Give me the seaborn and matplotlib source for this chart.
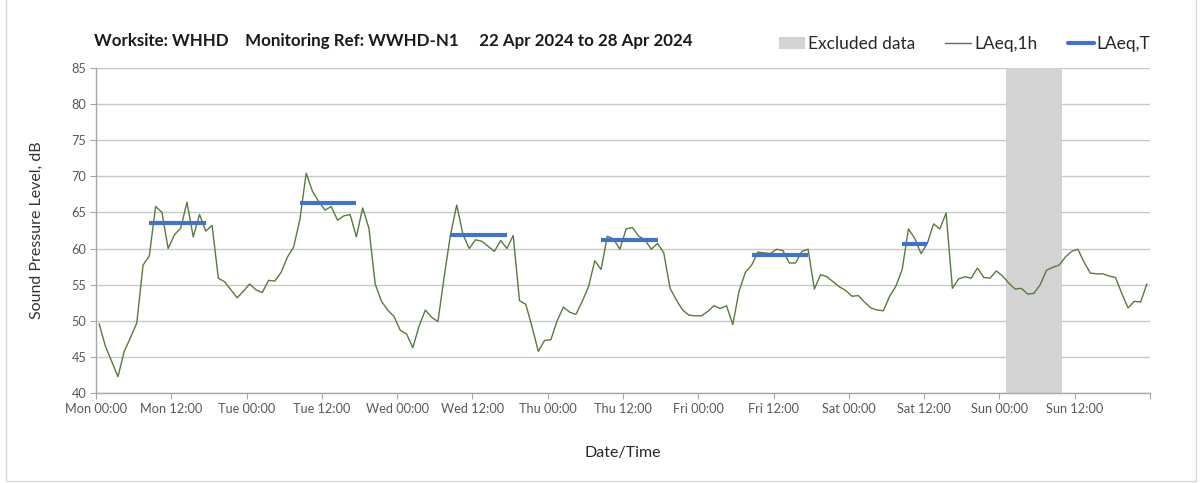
import numpy as np
import pandas as pd
import matplotlib
matplotlib.use("Agg")
import matplotlib.pyplot as plt
import matplotlib.dates as mdates
from matplotlib.patches import Patch
from matplotlib.lines import Line2D
import seaborn as sns

# Hourly LAeq,1h readings (dB), one per hour from Mon 22 Apr 2024 00:00
laeq_mon = [49.6, 46.5, 44.4, 42.3, 45.8, 47.7, 49.7, 57.7, 59.0, 65.8, 65.0, 60.0,
            61.9, 62.8, 66.4, 61.6, 64.7, 62.4, 63.2, 55.9, 55.4, 54.3, 53.2, 54.1]
laeq_tue = [55.1, 54.3, 53.9, 55.6, 55.5, 56.7, 58.8, 60.2, 64.0, 70.4, 67.9, 66.5,
            65.3, 65.8, 63.9, 64.5, 64.7, 61.6, 65.6, 62.8, 55.1, 52.7, 51.5, 50.6]
laeq_wed = [48.7, 48.2, 46.3, 49.3, 51.5, 50.5, 49.9, 56.1, 61.9, 66.0, 61.9, 60.0,
            61.2, 61.0, 60.3, 59.6, 61.1, 60.0, 61.8, 52.8, 52.3, 49.2, 45.8, 47.3]
laeq_thu = [47.4, 50.0, 51.9, 51.2, 50.9, 52.7, 54.7, 58.3, 57.1, 61.7, 61.3, 59.9,
            62.7, 62.9, 61.7, 61.2, 59.9, 60.7, 59.4, 54.5, 52.9, 51.5, 50.8, 50.7]
laeq_fri = [50.7, 51.3, 52.1, 51.7, 52.1, 49.5, 54.1, 56.7, 57.7, 59.5, 59.4, 59.3,
            59.9, 59.7, 58.0, 58.0, 59.6, 59.9, 54.4, 56.4, 56.1, 55.4, 54.7, 54.2]
laeq_sat = [53.4, 53.5, 52.6, 51.8, 51.5, 51.4, 53.4, 54.8, 57.1, 62.7, 61.4, 59.3,
            60.7, 63.4, 62.7, 64.9, 54.5, 55.8, 56.1, 55.9, 57.3, 56.0, 55.9, 56.9]
laeq_sun = [56.2, 55.2, 54.4, 54.5, 53.7, 53.8, 55.0, 57.0, 57.4, 57.7, 58.8, 59.6,
            59.9, 58.1, 56.6, 56.5, 56.5, 56.2, 56.0, 53.8, 51.8, 52.7, 52.6, 55.1]

# Daytime LAeq,T for each assessment period
period_day = ["2024-04-22", "2024-04-23", "2024-04-24", "2024-04-25", "2024-04-26", "2024-04-27"]
period_start = ["08:00", "08:00", "08:00", "08:00", "08:00", "08:00"]
period_end = ["18:00", "18:00", "18:00", "18:00", "18:00", "13:00"]
laeq_t = [63.5, 66.3, 61.8, 61.2, 59.1, 60.6]

# Period removed from the assessment
excluded_start = "2024-04-28 01:00"
excluded_end = "2024-04-28 10:00"

week_start = pd.Timestamp("2024-04-22 00:00")
week_end = pd.Timestamp("2024-04-29 00:00")
half_hour = pd.Timedelta(minutes=30)

hourly = pd.DataFrame({
    "time": pd.date_range(week_start, periods=168, freq="h") + half_hour,
    "level": laeq_mon + laeq_tue + laeq_wed + laeq_thu + laeq_fri + laeq_sat + laeq_sun,
})

rows = []
for i, (d, s, e, v) in enumerate(zip(period_day, period_start, period_end, laeq_t)):
    t0 = pd.Timestamp(f"{d} {s}") + half_hour
    t1 = pd.Timestamp(f"{d} {e}") - half_hour
    rows.append({"period": i, "time": t0, "level": v})
    rows.append({"period": i, "time": t1, "level": v})
periods = pd.DataFrame(rows)

sns.set_theme(style="white")
plt.rcParams["font.family"] = ["Lato", "DejaVu Sans"]

GREEN = "#587a3e"
BLUE = "#4472c4"
GREY_BAND = "#d3d3d3"
TEXT = "#262626"
TICK = "#595959"

fig = plt.figure(figsize=(12.03, 4.83), dpi=100)
ax = fig.add_axes([96 / 1203, 1 - 393.3 / 483, (1150 - 96) / 1203, (393.3 - 67.5) / 483])

ax.axvspan(pd.Timestamp(excluded_start), pd.Timestamp(excluded_end),
           color=GREY_BAND, lw=0, zorder=1)

sns.lineplot(data=hourly, x="time", y="level", color=GREEN, lw=1.0, ax=ax,
             zorder=3, legend=False)
sns.lineplot(data=periods, x="time", y="level", units="period", estimator=None,
             color=BLUE, lw=3.0, ax=ax, zorder=4, legend=False,
             solid_capstyle="butt")

ax.set_xlim(week_start, week_end)
ax.set_ylim(40, 85)
ax.set_yticks(np.arange(40, 86, 5))

ax.xaxis.set_major_locator(mdates.HourLocator(byhour=[0, 12]))
ax.xaxis.set_minor_locator(mdates.DayLocator())


def fmt_time(x, pos):
    t = mdates.num2date(x).replace(tzinfo=None)
    if t >= week_end:
        return ""
    return t.strftime("%a %H:%M")


ax.xaxis.set_major_formatter(plt.FuncFormatter(fmt_time))

ax.grid(axis="y", which="major", color="#c8c8c8", lw=1.0, zorder=0)
ax.grid(axis="x", which="minor", color="#d6d6d6", lw=1.0, zorder=0)
ax.grid(axis="x", which="major", visible=False)
ax.set_axisbelow(True)

for side in ("top", "right"):
    ax.spines[side].set_visible(False)
for side in ("left", "bottom"):
    ax.spines[side].set_color("#a6a6a6")
    ax.spines[side].set_linewidth(1.0)

ax.tick_params(axis="both", which="major", direction="out", length=4, width=0.8,
               color="#a6a6a6", labelsize=9.2, labelcolor=TICK, pad=3,
               bottom=True, left=True)
ax.tick_params(axis="x", which="minor", length=0)

ax.set_xlabel("Date/Time", fontsize=11.5, color=TEXT, labelpad=22)
ax.set_ylabel("Sound Pressure Level, dB", fontsize=11.5, color="#333333", labelpad=20)

fig.text(94 / 1203, 1 - 41 / 483,
         "Worksite: WHHD    Monitoring Ref: WWHD-N1     22 Apr 2024 to 28 Apr 2024",
         fontsize=12.15, fontweight="bold", color="#1a1a1a", va="center", ha="left")

handles = [
    Patch(facecolor=GREY_BAND, edgecolor="none", label="Excluded data"),
    Line2D([], [], color=GREEN, lw=1.0, label="LAeq,1h"),
    Line2D([], [], color=BLUE, lw=3.0, label="LAeq,T"),
]
fig.legend(handles=handles, loc="center right", bbox_to_anchor=(1157 / 1203, 1 - 44 / 483),
           ncol=3, frameon=False, fontsize=12.5, handlelength=1.5, handleheight=0.75,
           handletextpad=0.15, columnspacing=1.75, labelcolor=TEXT, borderaxespad=0)

# light frame around the chart area
for x0, y0, x1, y1 in [(6, 0, 6, 481), (1196, 0, 1196, 481), (6, 481, 1196, 481)]:
    fig.add_artist(Line2D([x0 / 1203, x1 / 1203], [1 - y0 / 483, 1 - y1 / 483],
                          color="#d9d9d9", lw=1.0, transform=fig.transFigure))

fig.savefig("out.png", dpi=100, facecolor="white")
